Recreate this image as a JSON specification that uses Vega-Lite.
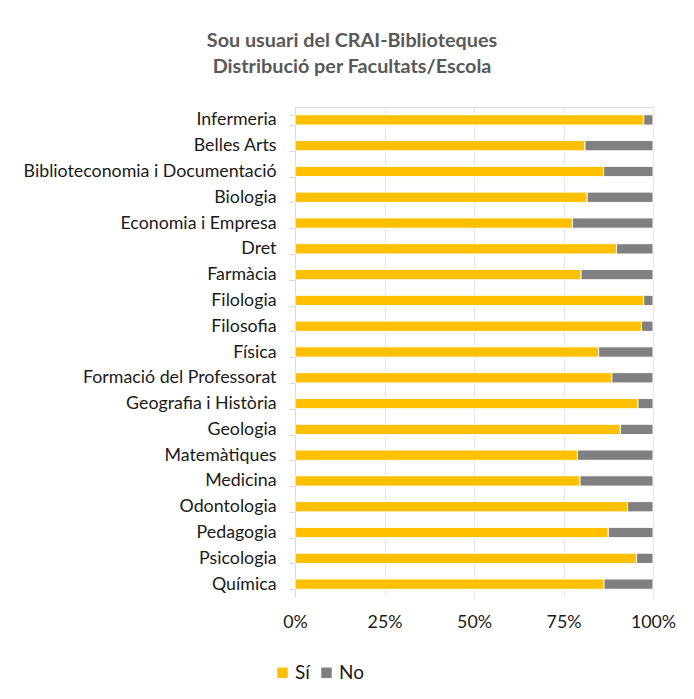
{
  "$schema": "https://vega.github.io/schema/vega-lite/v6.json",
  "width": 358,
  "height": 490,
  "autosize": {"type": "none"},
  "padding": {"left": 295, "top": 107, "right": 41, "bottom": 102},
  "background": "white",
  "title": {
    "text": ["Sou usuari del CRAI-Biblioteques", "Distribució per Facultats/Escola"],
    "anchor": "middle",
    "frame": "group",
    "dx": -122,
    "offset": 21,
    "font": "Lato",
    "fontSize": 19.8,
    "fontWeight": "bold",
    "color": "#595959",
    "lineHeight": 26
  },
  "data": {
    "values": [
      {"facultat": "Infermeria", "status": "Sí", "value": 97.4},
      {"facultat": "Infermeria", "status": "No", "value": 2.6},
      {"facultat": "Belles Arts", "status": "Sí", "value": 81.0},
      {"facultat": "Belles Arts", "status": "No", "value": 19.0},
      {"facultat": "Biblioteconomia i Documentació", "status": "Sí", "value": 86.2},
      {"facultat": "Biblioteconomia i Documentació", "status": "No", "value": 13.8},
      {"facultat": "Biologia", "status": "Sí", "value": 81.6},
      {"facultat": "Biologia", "status": "No", "value": 18.4},
      {"facultat": "Economia i Empresa", "status": "Sí", "value": 77.5},
      {"facultat": "Economia i Empresa", "status": "No", "value": 22.5},
      {"facultat": "Dret", "status": "Sí", "value": 89.8},
      {"facultat": "Dret", "status": "No", "value": 10.2},
      {"facultat": "Farmàcia", "status": "Sí", "value": 79.9},
      {"facultat": "Farmàcia", "status": "No", "value": 20.1},
      {"facultat": "Filologia", "status": "Sí", "value": 97.4},
      {"facultat": "Filologia", "status": "No", "value": 2.6},
      {"facultat": "Filosofia", "status": "Sí", "value": 96.8},
      {"facultat": "Filosofia", "status": "No", "value": 3.2},
      {"facultat": "Física", "status": "Sí", "value": 84.8},
      {"facultat": "Física", "status": "No", "value": 15.2},
      {"facultat": "Formació del Professorat", "status": "Sí", "value": 88.5},
      {"facultat": "Formació del Professorat", "status": "No", "value": 11.5},
      {"facultat": "Geografia i Història", "status": "Sí", "value": 95.8},
      {"facultat": "Geografia i Història", "status": "No", "value": 4.2},
      {"facultat": "Geologia", "status": "Sí", "value": 90.9},
      {"facultat": "Geologia", "status": "No", "value": 9.1},
      {"facultat": "Matemàtiques", "status": "Sí", "value": 78.9},
      {"facultat": "Matemàtiques", "status": "No", "value": 21.1},
      {"facultat": "Medicina", "status": "Sí", "value": 79.6},
      {"facultat": "Medicina", "status": "No", "value": 20.4},
      {"facultat": "Odontologia", "status": "Sí", "value": 92.9},
      {"facultat": "Odontologia", "status": "No", "value": 7.1},
      {"facultat": "Pedagogia", "status": "Sí", "value": 87.5},
      {"facultat": "Pedagogia", "status": "No", "value": 12.5},
      {"facultat": "Psicologia", "status": "Sí", "value": 95.4},
      {"facultat": "Psicologia", "status": "No", "value": 4.6},
      {"facultat": "Química", "status": "Sí", "value": 86.3},
      {"facultat": "Química", "status": "No", "value": 13.7}
    ]
  },
  "encoding": {
    "y": {
      "field": "facultat",
      "type": "nominal",
      "sort": null,
      "scale": {"paddingInner": 0.6, "paddingOuter": 0.3},
      "axis": {
        "title": null,
        "tickBand": "extent",
        "tickSize": 6,
        "tickColor": "#d9d9d9",
        "domainColor": "#d9d9d9",
        "labelFont": "Lato",
        "labelFontSize": 17.8,
        "labelColor": "#1a1a1a",
        "labelPadding": 13,
        "labelLimit": 400,
        "grid": false
      }
    },
    "x": {
      "field": "value",
      "type": "quantitative",
      "stack": "normalize",
      "scale": {"domain": [0, 1], "nice": false},
      "axis": {
        "title": null,
        "format": ".0%",
        "values": [0, 0.25, 0.5, 0.75, 1],
        "grid": true,
        "gridColor": "#e6e6e6",
        "gridWidth": 1,
        "domain": false,
        "ticks": false,
        "labelFlush": false,
        "labelBound": false,
        "labelOverlap": false,
        "labelFont": "Lato",
        "labelFontSize": 17.8,
        "labelColor": "#1a1a1a",
        "labelPadding": 16
      }
    },
    "order": {"field": "status", "sort": "descending"}
  },
  "layer": [
    {
      "mark": {"type": "bar", "stroke": "white", "strokeWidth": 1},
      "encoding": {
        "color": {
          "field": "status",
          "type": "nominal",
          "scale": {"domain": ["Sí", "No"], "range": ["#FFC000", "#808080"]},
          "legend": {
            "title": null,
            "orient": "none",
            "direction": "horizontal",
            "legendX": -22,
            "legendY": 556,
            "symbolType": "square",
            "symbolSize": 110,
            "symbolStrokeWidth": 0,
            "labelFont": "Lato",
            "labelFontSize": 19,
            "labelColor": "#1a1a1a",
            "columnPadding": 7,
            "labelOffset": 3
          }
        }
      }
    },
    {
      "mark": {"type": "bar", "opacity": 0},
      "encoding": {
        "x": {
          "field": "value",
          "type": "quantitative",
          "stack": "normalize",
          "scale": {"domain": [0, 1], "nice": false},
          "axis": {
            "orient": "top",
            "title": null,
            "labels": false,
            "ticks": false,
            "grid": false,
            "domain": true,
            "domainColor": "#d9d9d9"
          }
        }
      }
    }
  ],
  "resolve": {"axis": {"x": "independent"}},
  "config": {"view": {"stroke": null}}
}
